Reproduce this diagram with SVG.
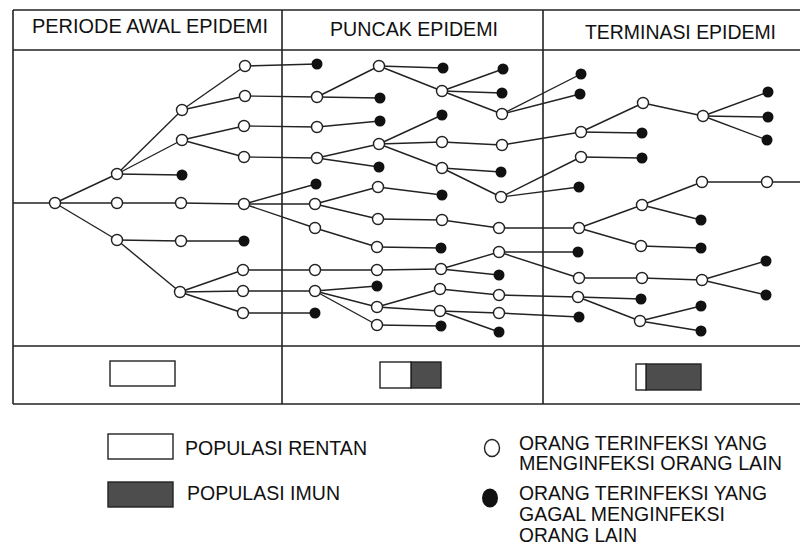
<svg xmlns="http://www.w3.org/2000/svg" width="800" height="545" viewBox="0 0 800 545">
<style>
.frame{stroke:#222;stroke-width:1.6;fill:none}
.e{stroke:#222;stroke-width:1.4}
.w{fill:#fff;stroke:#222;stroke-width:1.4}
.b{fill:#111}
.t{font-family:"Liberation Sans",Arial,sans-serif;font-size:19.5px;fill:#111}
.box{fill:#fff;stroke:#222;stroke-width:1.4}
.dk{fill:#4d4d4d;stroke:#222;stroke-width:1.4}
</style>
<rect width="800" height="545" fill="#fff"/>
<g id="frame" class="frame">
<line x1="13" y1="10" x2="800" y2="10"/>
<line x1="13" y1="50" x2="800" y2="50"/>
<line x1="13" y1="346" x2="800" y2="346"/>
<line x1="13" y1="404" x2="800" y2="404"/>
<line x1="13" y1="10" x2="13" y2="404"/>
<line x1="282" y1="10" x2="282" y2="404"/>
<line x1="543" y1="10" x2="543" y2="404"/>
</g>
<g id="headers" class="t">
<text x="32" y="33" textLength="236" lengthAdjust="spacingAndGlyphs">PERIODE AWAL EPIDEMI</text>
<text x="330" y="36" textLength="168" lengthAdjust="spacingAndGlyphs">PUNCAK EPIDEMI</text>
<text x="585" y="39" textLength="191" lengthAdjust="spacingAndGlyphs">TERMINASI EPIDEMI</text>
</g>
<g id="connectors" class="e">
<line x1="13" y1="203" x2="55" y2="203"/>
<line x1="55" y1="203" x2="117" y2="174"/><line x1="55" y1="203" x2="117" y2="203"/><line x1="55" y1="203" x2="117" y2="240"/>
<line x1="117" y1="174" x2="182" y2="110"/><line x1="117" y1="174" x2="182" y2="140"/><line x1="117" y1="174" x2="182" y2="175"/>
<line x1="117" y1="203" x2="181" y2="203"/>
<line x1="117" y1="240" x2="181" y2="241"/><line x1="117" y1="240" x2="180" y2="292"/>
<line x1="182" y1="110" x2="245" y2="66"/><line x1="182" y1="110" x2="245" y2="96"/>
<line x1="182" y1="140" x2="244" y2="126"/><line x1="182" y1="140" x2="244" y2="157"/>
<line x1="181" y1="203" x2="244" y2="204"/>
<line x1="181" y1="241" x2="244" y2="241"/>
<line x1="180" y1="292" x2="243" y2="270"/><line x1="180" y1="292" x2="243" y2="291"/><line x1="180" y1="292" x2="243" y2="313"/>
<line x1="245" y1="66" x2="317" y2="64"/><line x1="245" y1="96" x2="317" y2="97"/><line x1="244" y1="126" x2="317" y2="127"/><line x1="244" y1="157" x2="317" y2="158"/>
<line x1="244" y1="204" x2="316" y2="184"/><line x1="244" y1="204" x2="315" y2="204"/><line x1="244" y1="204" x2="315" y2="228"/>
<line x1="243" y1="270" x2="315" y2="270"/><line x1="243" y1="291" x2="315" y2="291"/><line x1="243" y1="313" x2="315" y2="313"/>
<line x1="317" y1="97" x2="379" y2="66"/><line x1="317" y1="97" x2="380" y2="98"/>
<line x1="317" y1="127" x2="380" y2="121"/>
<line x1="317" y1="158" x2="379" y2="144"/><line x1="317" y1="158" x2="379" y2="167"/>
<line x1="315" y1="204" x2="378" y2="187"/><line x1="315" y1="204" x2="378" y2="219"/>
<line x1="315" y1="228" x2="377" y2="247"/>
<line x1="315" y1="270" x2="377" y2="270"/>
<line x1="315" y1="291" x2="377" y2="286"/><line x1="315" y1="291" x2="377" y2="307"/><line x1="315" y1="291" x2="377" y2="325"/>
<line x1="379" y1="66" x2="443" y2="68"/><line x1="379" y1="66" x2="442" y2="91"/>
<line x1="379" y1="144" x2="442" y2="115"/><line x1="379" y1="144" x2="442" y2="142"/><line x1="379" y1="144" x2="442" y2="168"/>
<line x1="378" y1="187" x2="442" y2="195"/><line x1="378" y1="219" x2="442" y2="220"/>
<line x1="377" y1="247" x2="441" y2="248"/><line x1="377" y1="270" x2="441" y2="269"/>
<line x1="377" y1="307" x2="440" y2="289"/><line x1="377" y1="307" x2="440" y2="311"/>
<line x1="377" y1="325" x2="441" y2="326"/>
<line x1="442" y1="91" x2="503" y2="69"/><line x1="442" y1="91" x2="502" y2="93"/><line x1="442" y1="91" x2="502" y2="114"/>
<line x1="442" y1="142" x2="502" y2="145"/>
<line x1="442" y1="168" x2="501" y2="172"/><line x1="442" y1="168" x2="501" y2="197"/>
<line x1="442" y1="220" x2="499" y2="228"/>
<line x1="441" y1="269" x2="499" y2="252"/><line x1="441" y1="269" x2="499" y2="275"/>
<line x1="440" y1="289" x2="499" y2="295"/>
<line x1="440" y1="311" x2="499" y2="313"/><line x1="440" y1="311" x2="499" y2="332"/>
<line x1="502" y1="114" x2="581" y2="74"/><line x1="502" y1="114" x2="580" y2="94"/>
<line x1="502" y1="145" x2="581" y2="132"/>
<line x1="501" y1="197" x2="581" y2="157"/><line x1="501" y1="197" x2="579" y2="187"/>
<line x1="499" y1="228" x2="579" y2="228"/>
<line x1="499" y1="252" x2="578" y2="252"/><line x1="499" y1="252" x2="579" y2="278"/>
<line x1="499" y1="295" x2="578" y2="297"/>
<line x1="499" y1="313" x2="579" y2="317"/>
<line x1="581" y1="132" x2="643" y2="103"/><line x1="581" y1="132" x2="642" y2="133"/>
<line x1="581" y1="157" x2="642" y2="158"/>
<line x1="579" y1="228" x2="642" y2="205"/><line x1="579" y1="228" x2="641" y2="246"/>
<line x1="579" y1="278" x2="642" y2="278"/>
<line x1="578" y1="297" x2="641" y2="299"/><line x1="578" y1="297" x2="640" y2="321"/>
<line x1="643" y1="103" x2="703" y2="116"/>
<line x1="642" y1="205" x2="702" y2="182"/><line x1="642" y1="205" x2="701" y2="220"/>
<line x1="641" y1="246" x2="701" y2="248"/>
<line x1="642" y1="278" x2="702" y2="280"/>
<line x1="640" y1="321" x2="701" y2="306"/><line x1="640" y1="321" x2="701" y2="331"/>
<line x1="703" y1="116" x2="768" y2="92"/><line x1="703" y1="116" x2="768" y2="117"/><line x1="703" y1="116" x2="767" y2="140"/>
<line x1="702" y1="182" x2="767" y2="182"/><line x1="767" y1="182" x2="800" y2="182"/>
<line x1="702" y1="280" x2="766" y2="261"/><line x1="702" y1="280" x2="766" y2="295"/>
</g>
<g id="n0"><circle class="w" cx="55" cy="203" r="5.5"/></g>
<g id="a1"><circle class="w" cx="117" cy="174" r="5.5"/></g>
<g id="a2"><circle class="w" cx="117" cy="203" r="5.5"/></g>
<g id="a3"><circle class="w" cx="117" cy="240" r="5.5"/></g>
<g id="b1"><circle class="w" cx="182" cy="110" r="5.5"/></g>
<g id="b2"><circle class="w" cx="182" cy="140" r="5.5"/></g>
<g id="b3"><circle class="b" cx="182" cy="175" r="5.5"/></g>
<g id="b4"><circle class="w" cx="181" cy="203" r="5.5"/></g>
<g id="b5"><circle class="w" cx="181" cy="241" r="5.5"/></g>
<g id="b6"><circle class="w" cx="180" cy="292" r="5.5"/></g>
<g id="c1"><circle class="w" cx="245" cy="66" r="5.5"/></g>
<g id="c2"><circle class="w" cx="245" cy="96" r="5.5"/></g>
<g id="c3"><circle class="w" cx="244" cy="126" r="5.5"/></g>
<g id="c4"><circle class="w" cx="244" cy="157" r="5.5"/></g>
<g id="c5"><circle class="w" cx="244" cy="204" r="5.5"/></g>
<g id="c6"><circle class="b" cx="244" cy="241" r="5.5"/></g>
<g id="c7"><circle class="w" cx="243" cy="270" r="5.5"/></g>
<g id="c8"><circle class="w" cx="243" cy="291" r="5.5"/></g>
<g id="c9"><circle class="w" cx="243" cy="313" r="5.5"/></g>
<g id="d1"><circle class="b" cx="317" cy="64" r="5.5"/></g>
<g id="d2"><circle class="w" cx="317" cy="97" r="5.5"/></g>
<g id="d3"><circle class="w" cx="317" cy="127" r="5.5"/></g>
<g id="d4"><circle class="w" cx="317" cy="158" r="5.5"/></g>
<g id="d5"><circle class="b" cx="316" cy="184" r="5.5"/></g>
<g id="d6"><circle class="w" cx="315" cy="204" r="5.5"/></g>
<g id="d7"><circle class="w" cx="315" cy="228" r="5.5"/></g>
<g id="d8"><circle class="w" cx="315" cy="270" r="5.5"/></g>
<g id="d9"><circle class="w" cx="315" cy="291" r="5.5"/></g>
<g id="d10"><circle class="b" cx="315" cy="313" r="5.5"/></g>
<g id="e1"><circle class="w" cx="379" cy="66" r="5.5"/></g>
<g id="e2"><circle class="b" cx="380" cy="98" r="5.5"/></g>
<g id="e3"><circle class="b" cx="380" cy="121" r="5.5"/></g>
<g id="e4"><circle class="w" cx="379" cy="144" r="5.5"/></g>
<g id="e5"><circle class="b" cx="379" cy="167" r="5.5"/></g>
<g id="e6"><circle class="w" cx="378" cy="187" r="5.5"/></g>
<g id="e7"><circle class="w" cx="378" cy="219" r="5.5"/></g>
<g id="e8"><circle class="w" cx="377" cy="247" r="5.5"/></g>
<g id="e9"><circle class="w" cx="377" cy="270" r="5.5"/></g>
<g id="e10"><circle class="b" cx="377" cy="286" r="5.5"/></g>
<g id="e11"><circle class="w" cx="377" cy="307" r="5.5"/></g>
<g id="e12"><circle class="w" cx="377" cy="325" r="5.5"/></g>
<g id="f1"><circle class="b" cx="443" cy="68" r="5.5"/></g>
<g id="f2"><circle class="w" cx="442" cy="91" r="5.5"/></g>
<g id="f3"><circle class="b" cx="442" cy="115" r="5.5"/></g>
<g id="f4"><circle class="w" cx="442" cy="142" r="5.5"/></g>
<g id="f5"><circle class="w" cx="442" cy="168" r="5.5"/></g>
<g id="f6"><circle class="b" cx="442" cy="195" r="5.5"/></g>
<g id="f7"><circle class="w" cx="442" cy="220" r="5.5"/></g>
<g id="f8"><circle class="b" cx="441" cy="248" r="5.5"/></g>
<g id="f9"><circle class="w" cx="441" cy="269" r="5.5"/></g>
<g id="f10"><circle class="w" cx="440" cy="289" r="5.5"/></g>
<g id="f11"><circle class="w" cx="440" cy="311" r="5.5"/></g>
<g id="f12"><circle class="b" cx="441" cy="326" r="5.5"/></g>
<g id="g1"><circle class="b" cx="503" cy="69" r="5.5"/></g>
<g id="g2"><circle class="b" cx="502" cy="93" r="5.5"/></g>
<g id="g3"><circle class="w" cx="502" cy="114" r="5.5"/></g>
<g id="g4"><circle class="w" cx="502" cy="145" r="5.5"/></g>
<g id="g5"><circle class="b" cx="501" cy="172" r="5.5"/></g>
<g id="g6"><circle class="w" cx="501" cy="197" r="5.5"/></g>
<g id="g7"><circle class="w" cx="499" cy="228" r="5.5"/></g>
<g id="g8"><circle class="w" cx="499" cy="252" r="5.5"/></g>
<g id="g9"><circle class="b" cx="499" cy="275" r="5.5"/></g>
<g id="g10"><circle class="w" cx="499" cy="295" r="5.5"/></g>
<g id="g11"><circle class="w" cx="499" cy="313" r="5.5"/></g>
<g id="g12"><circle class="b" cx="499" cy="332" r="5.5"/></g>
<g id="h1"><circle class="b" cx="581" cy="74" r="5.5"/></g>
<g id="h2"><circle class="b" cx="580" cy="94" r="5.5"/></g>
<g id="h3"><circle class="w" cx="581" cy="132" r="5.5"/></g>
<g id="h4"><circle class="w" cx="581" cy="157" r="5.5"/></g>
<g id="h5"><circle class="b" cx="579" cy="187" r="5.5"/></g>
<g id="h6"><circle class="w" cx="579" cy="228" r="5.5"/></g>
<g id="h7"><circle class="b" cx="578" cy="252" r="5.5"/></g>
<g id="h8"><circle class="w" cx="579" cy="278" r="5.5"/></g>
<g id="h9"><circle class="w" cx="578" cy="297" r="5.5"/></g>
<g id="h10"><circle class="b" cx="579" cy="317" r="5.5"/></g>
<g id="i1"><circle class="w" cx="643" cy="103" r="5.5"/></g>
<g id="i2"><circle class="b" cx="642" cy="133" r="5.5"/></g>
<g id="i3"><circle class="b" cx="642" cy="158" r="5.5"/></g>
<g id="i4"><circle class="w" cx="642" cy="205" r="5.5"/></g>
<g id="i5"><circle class="w" cx="641" cy="246" r="5.5"/></g>
<g id="i6"><circle class="w" cx="642" cy="278" r="5.5"/></g>
<g id="i7"><circle class="b" cx="641" cy="299" r="5.5"/></g>
<g id="i8"><circle class="w" cx="640" cy="321" r="5.5"/></g>
<g id="j1"><circle class="w" cx="703" cy="116" r="5.5"/></g>
<g id="j2"><circle class="w" cx="702" cy="182" r="5.5"/></g>
<g id="j3"><circle class="b" cx="701" cy="220" r="5.5"/></g>
<g id="j4"><circle class="b" cx="701" cy="248" r="5.5"/></g>
<g id="j5"><circle class="w" cx="702" cy="280" r="5.5"/></g>
<g id="j6"><circle class="b" cx="701" cy="306" r="5.5"/></g>
<g id="j7"><circle class="b" cx="701" cy="331" r="5.5"/></g>
<g id="k1"><circle class="b" cx="768" cy="92" r="5.5"/></g>
<g id="k2"><circle class="b" cx="768" cy="117" r="5.5"/></g>
<g id="k3"><circle class="b" cx="767" cy="140" r="5.5"/></g>
<g id="k4"><circle class="w" cx="767" cy="182" r="5.5"/></g>
<g id="k5"><circle class="b" cx="766" cy="261" r="5.5"/></g>
<g id="k6"><circle class="b" cx="766" cy="295" r="5.5"/></g>
<g id="bar1"><rect class="box" x="110" y="361" width="65" height="25"/></g>
<g id="bar2"><rect class="dk" x="411" y="362" width="30" height="26"/><rect class="box" x="380" y="362" width="31" height="26"/></g>
<g id="bar3"><rect class="dk" x="646" y="364" width="55" height="26"/><rect class="box" x="636" y="364" width="10" height="26"/></g>
<g id="legend">
<rect class="box" x="108" y="434" width="65" height="25"/>
<text class="t" x="185" y="455" textLength="182" lengthAdjust="spacingAndGlyphs">POPULASI RENTAN</text>
<rect class="dk" x="108" y="482" width="65" height="25"/>
<text class="t" x="187" y="500" textLength="153" lengthAdjust="spacingAndGlyphs">POPULASI IMUN</text>
<ellipse class="w" cx="492" cy="448" rx="7.5" ry="8.5"/>
<text class="t" x="519" y="450" textLength="248" lengthAdjust="spacingAndGlyphs">ORANG TERINFEKSI YANG</text>
<text class="t" x="519" y="470" textLength="263" lengthAdjust="spacingAndGlyphs">MENGINFEKSI ORANG LAIN</text>
<ellipse class="b" cx="490" cy="498" rx="8" ry="9.5"/>
<text class="t" x="519" y="500" textLength="248" lengthAdjust="spacingAndGlyphs">ORANG TERINFEKSI YANG</text>
<text class="t" x="519" y="521" textLength="206" lengthAdjust="spacingAndGlyphs">GAGAL MENGINFEKSI</text>
<text class="t" x="519" y="542" textLength="118" lengthAdjust="spacingAndGlyphs">ORANG LAIN</text>
</g>
</svg>
